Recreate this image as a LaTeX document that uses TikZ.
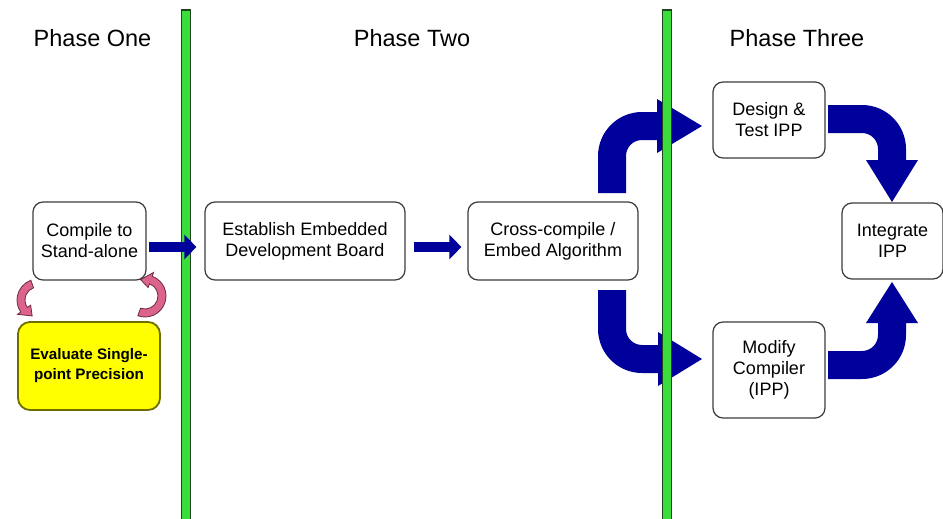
\documentclass[tikz,border=0pt]{standalone}
\usepackage{fontspec}
\setmainfont{Liberation Sans}
\usetikzlibrary{arrows.meta,calc}
\definecolor{bblue}{RGB}{0,0,155}
\definecolor{lgreen}{RGB}{60,220,60}
\definecolor{dgreen}{RGB}{30,70,30}
\definecolor{boxgray}{RGB}{60,60,60}
\definecolor{pfill}{RGB}{220,100,140}
\definecolor{pdraw}{RGB}{110,40,70}
\definecolor{yfill}{RGB}{255,255,0}
\definecolor{ydraw}{RGB}{110,110,0}
\begin{document}
\begin{tikzpicture}[x=1pt,y=-1pt,
  box/.style={draw=boxgray, line width=1.2pt, rounded corners=10pt, fill=white, align=center,
    font=\fontsize{18}{21}\selectfont, inner sep=0pt},
  ybox/.style={draw=ydraw, line width=1.8pt, rounded corners=12pt, fill=yfill, align=center,
    font=\fontsize{15.2}{20}\selectfont\bfseries, inner sep=0pt},
  phase/.style={font=\fontsize{23.5}{28}\selectfont, anchor=base},
  blockarrow/.style={fill=bblue},
  greenline/.style={fill=lgreen, draw=dgreen, line width=1.2pt},
  pinkarrow/.style={fill=pfill, draw=pdraw, line width=0.8pt},
  flatarrow/.style={draw=bblue, line width=10pt, -{Triangle[length=12pt,width=24pt]}}
]
\useasboundingbox (0,0) rectangle (943,519);
\fill[white] (0,0) rectangle (943,519);

% headers
\node[phase] (h1) at (92.5,47) {Phase One};
\node[phase] (h2) at (412,47) {Phase Two};
\node[phase] (h3) at (797,47) {Phase Three};

% curved block arrows (under the green lines)
\fill[blockarrow] (598,193) -- (598,156) arc[start angle=180,end angle=270,radius=44]
  -- (657,112) -- (657,99) -- (702,126) -- (657,153) -- (657,140) -- (642,140)
  arc[start angle=270,end angle=180,radius=16] -- (626,193) -- cycle;
\fill[blockarrow] (598,290) -- (598,329) arc[start angle=180,end angle=90,radius=44]
  -- (658,373) -- (658,386) -- (702,359) -- (658,332) -- (658,345) -- (642,345)
  arc[start angle=90,end angle=180,radius=16] -- (626,290) -- cycle;
\fill[blockarrow] (828,105) -- (862,105) arc[start angle=270,end angle=360,radius=44]
  -- (906,160) -- (918,160) -- (892,202) -- (866,160) -- (878,160) -- (878,149)
  arc[start angle=0,end angle=-90,radius=16] -- (828,133) -- cycle;
\fill[blockarrow] (828,379) -- (862,379) arc[start angle=90,end angle=0,radius=44]
  -- (906,323) -- (918,323) -- (892,282) -- (866,323) -- (878,323) -- (878,335)
  arc[start angle=0,end angle=90,radius=16] -- (828,351) -- cycle;

% green separators
\filldraw[greenline] (181.5,10) rectangle (190.5,525);
\filldraw[greenline] (662.5,10) rectangle (671.5,525);

% boxes
\node[box, minimum width=113pt, minimum height=78pt] (compile) at (89.5,241) {Compile to\\Stand-alone};
\node[ybox, minimum width=142pt, minimum height=88pt] (eval) at (89,366) {Evaluate Single-\\point Precision};
\node[box, minimum width=200pt, minimum height=78pt] (establish) at (305,241) {Establish Embedded\\Development Board};
\node[box, minimum width=170pt, minimum height=78pt] (cross) at (553,241) {Cross-compile /\\Embed Algorithm};
\node[box, minimum width=112pt, minimum height=76pt] (design) at (769,120) {Design \&\\Test IPP};
\node[box, minimum width=101pt, minimum height=76pt] (integrate) at (892.5,241) {Integrate\\IPP};
\node[box, minimum width=112pt, minimum height=96pt] (modify) at (769,370) {Modify\\Compiler\\(IPP)};

% straight arrows
\draw[flatarrow] ($(compile.east)+(2,6)$) -- ($(establish.west)+(-8,6)$);
\draw[flatarrow] ($(establish.east)+(8,6)$) -- ($(cross.west)+(-6,6)$);

% pink circular arrows
\filldraw[pinkarrow] ([shift={(38,300)}]250:21) arc[start angle=250,end angle=145,radius=21]
  -- ([shift={(38,300)}]145:25) -- ([shift={(38,300)}]110:17) -- ([shift={(38,300)}]145:9)
  -- ([shift={(38,300)}]145:13) arc[start angle=145,end angle=250,radius=13] -- cycle;
\filldraw[pinkarrow] ([shift={(145,296)}]110:21) arc[start angle=110,end angle=-70,radius=21]
  -- ([shift={(145,296)}]-70:25) -- ([shift={(145,296)}]-105:17) -- ([shift={(145,296)}]-70:9)
  -- ([shift={(145,296)}]-70:13) arc[start angle=-70,end angle=110,radius=13] -- cycle;
\end{tikzpicture}
\end{document}
